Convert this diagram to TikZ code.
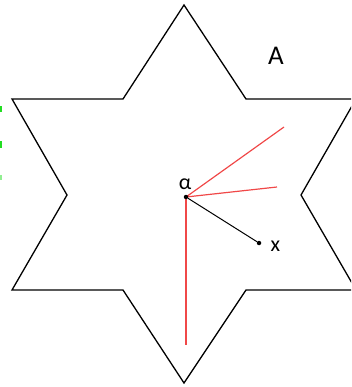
\documentclass[tikz,border=0pt]{standalone}
\usepackage{fontspec}
\setmainfont{Carlito}
\usetikzlibrary{positioning}
\definecolor{rayred}{HTML}{F04848}
\definecolor{tick}{HTML}{22DD22}

\begin{document}
\begin{tikzpicture}[x=1pt,y=-1pt,every node/.style={font=\fontsize{22}{26}\selectfont,inner sep=0pt}]
    \useasboundingbox (0,0) rectangle (351,387);
    \clip (0,0) rectangle (351,387);
    % star shaped set
    \draw[line width=1.3pt,line join=miter] (184,5) -- (246,99) -- (356,99) -- (301,195) -- (356,290)
      -- (246,290) -- (184,383) -- (123,290) -- (12,290) -- (67,195) -- (12,99) -- (123,99) -- cycle;
    \node (setA) at (276,56) {\fontsize{27}{30}\selectfont A};
    % left edge marks
    \fill[tick] (0,106) rectangle (2,112);
    \fill[tick] (0,141) rectangle (2,148);
    \fill[tick!50] (0,175) rectangle (2,180);
    % centre point and rays
    \coordinate (ctr) at (186,197);
    \coordinate (r1) at (284,127);
    \coordinate (r2) at (277,187);
    \coordinate (r3) at (186,345);
    \draw[rayred,line width=1.2pt] (ctr) -- (r1);
    \draw[rayred,line width=1.2pt] (ctr) -- (r2);
    \draw[rayred,line width=1.2pt] (ctr) -- (r3);
    \node[circle,fill,minimum size=4.5pt] (alpha) at (ctr) {};
    \node[above=5pt of alpha,xshift=-1pt] (alphalbl) {α};
    \node[circle,fill,minimum size=4.5pt] (xpt) at (259,243) {};
    \node[right=9pt of xpt,yshift=-3pt] (xlbl) {x};
    \draw[line width=1pt] (alpha) -- (xpt);
  \end{tikzpicture}
\end{document}
